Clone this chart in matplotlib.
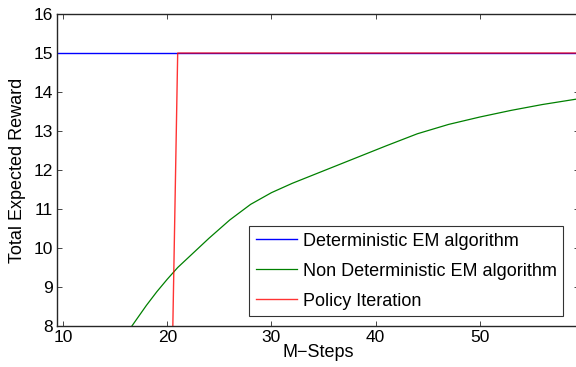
import matplotlib
matplotlib.use("Agg")
import matplotlib.pyplot as plt

plt.rcParams['font.family'] = ['Liberation Sans', 'DejaVu Sans']

# data
det_steps = [1, 60]
det_reward = [15, 15]

nondet_steps = [16, 17, 18, 19, 20, 21, 22, 23, 24, 26, 28, 30, 32, 35, 38,
                41, 44, 47, 50, 53, 56, 60]
nondet_reward = [7.77, 8.15, 8.53, 8.88, 9.2, 9.5, 9.75, 10.0, 10.25, 10.72,
                 11.12, 11.42, 11.66, 11.98, 12.3, 12.62, 12.93, 13.17, 13.36,
                 13.53, 13.68, 13.85]

policy_steps = [1, 20, 21, 60]
policy_reward = [0, 0, 15, 15]

labels = ['Deterministic EM algorithm', 'Non Deterministic EM algorithm', 'Policy Iteration']
x_ticks = [10, 20, 30, 40, 50]
y_ticks = [8, 9, 10, 11, 12, 13, 14, 15, 16]

fig = plt.figure(figsize=(5.76, 3.67), dpi=100)
ax = fig.add_axes([0.099, 0.1117, 0.906, 0.850])

ax.plot(det_steps, det_reward, color='#0000ff', lw=1.0, label=labels[0])
ax.plot(nondet_steps, nondet_reward, color='#008000', lw=0.9, label=labels[1])
ax.plot(policy_steps, policy_reward, color='#ff0000', lw=1.0, alpha=0.8, label=labels[2])

ax.set_xlim(9.42, 59.5)
ax.set_ylim(8, 16)
ax.set_xticks(x_ticks)
ax.set_yticks(y_ticks)
ax.tick_params(direction='in', top=True, right=True, length=3.6, width=0.6,
               labelsize=12.5, pad=3, colors='#262626', labelcolor='black')
for s in ax.spines.values():
    s.set_linewidth(1.0)
    s.set_color('#262626')

ax.set_xlabel('M\u2212Steps', fontsize=13, labelpad=-1)
ax.set_ylabel('Total Expected Reward', fontsize=13, labelpad=5)

leg = ax.legend(loc='lower right', bbox_to_anchor=(0.969, 0.032), fontsize=13,
                frameon=True, fancybox=False, edgecolor='black',
                handlelength=2.3, handletextpad=0.3, borderaxespad=0,
                labelspacing=0.72, borderpad=0.35)
leg.get_frame().set_linewidth(0.8)

fig.savefig('out.png', dpi=100)
